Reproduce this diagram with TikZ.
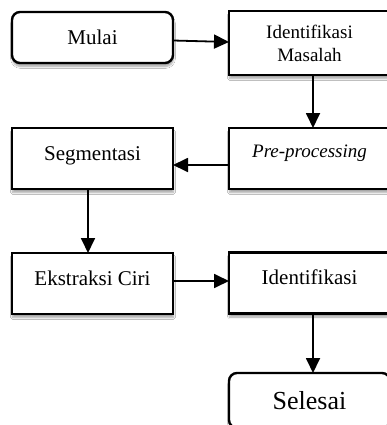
\documentclass[tikz,border=0pt]{standalone}
\usepackage{fontspec}
\setmainfont{Liberation Serif}
\usetikzlibrary{arrows.meta,shadows.blur}
\begin{document}
\begin{tikzpicture}[x=1pt,y=-1pt,
  box/.style={draw=black, line width=2.4pt, fill=white, minimum width=161pt,
    inner sep=0pt, outer sep=0pt, align=center,
    blur shadow={shadow xshift=0.5pt, shadow yshift=-3.5pt, shadow blur steps=6, shadow opacity=35}},
  rbox/.style={box, rounded corners=8pt},
  arr/.style={line width=1.8pt, -{Triangle[length=15pt,width=14pt]}},
  big/.style={font=\fontsize{21}{25}\selectfont},
  mid/.style={font=\fontsize{19}{23}\selectfont},
]
\clip (0,0) rectangle (387,425);
\fill[white] (0,0) rectangle (387,425);
\node[rbox, big, minimum height=51pt] (mulai) at (92.5,37.5) {Mulai};
\node[box, mid, minimum height=64pt] (im) at (309.5,43) {Identifikasi\\Masalah};
\node[box, big, minimum height=61pt, text height=15pt, text depth=12pt] (seg) at (92.5,158.5) {Segmentasi};
\node[box, mid, minimum height=61pt, text height=12pt, text depth=15pt] (pp) at (309.5,158.5) {\itshape Pre-processing};
\node[box, big, minimum height=61pt, text height=15pt, text depth=12pt] (ec) at (92.5,283.5) {Ekstraksi Ciri};
\node[box, big, minimum height=61pt, text height=15pt, text depth=12pt] (id) at (309.5,283) {Identifikasi};
\node[rbox, font=\fontsize{26}{30}\selectfont, minimum height=55pt] (sel) at (309.5,400.5) {Selesai};
\draw[arr] ([yshift=-3pt]mulai.east) -- ([yshift=1pt]im.west);
\draw[arr] ([xshift=3.5pt]im.south) -- ([xshift=3.5pt]pp.north);
\draw[arr] ([yshift=-6.5pt]pp.west) -- ([yshift=-6.5pt]seg.east);
\draw[arr] ([xshift=-4.5pt]seg.south) -- ([xshift=-4.5pt]ec.north);
\draw[arr] ([yshift=2.5pt]ec.east) -- ([yshift=2pt]id.west);
\draw[arr] ([xshift=3.5pt]id.south) -- ([xshift=3.5pt]sel.north);
\end{tikzpicture}
\end{document}
